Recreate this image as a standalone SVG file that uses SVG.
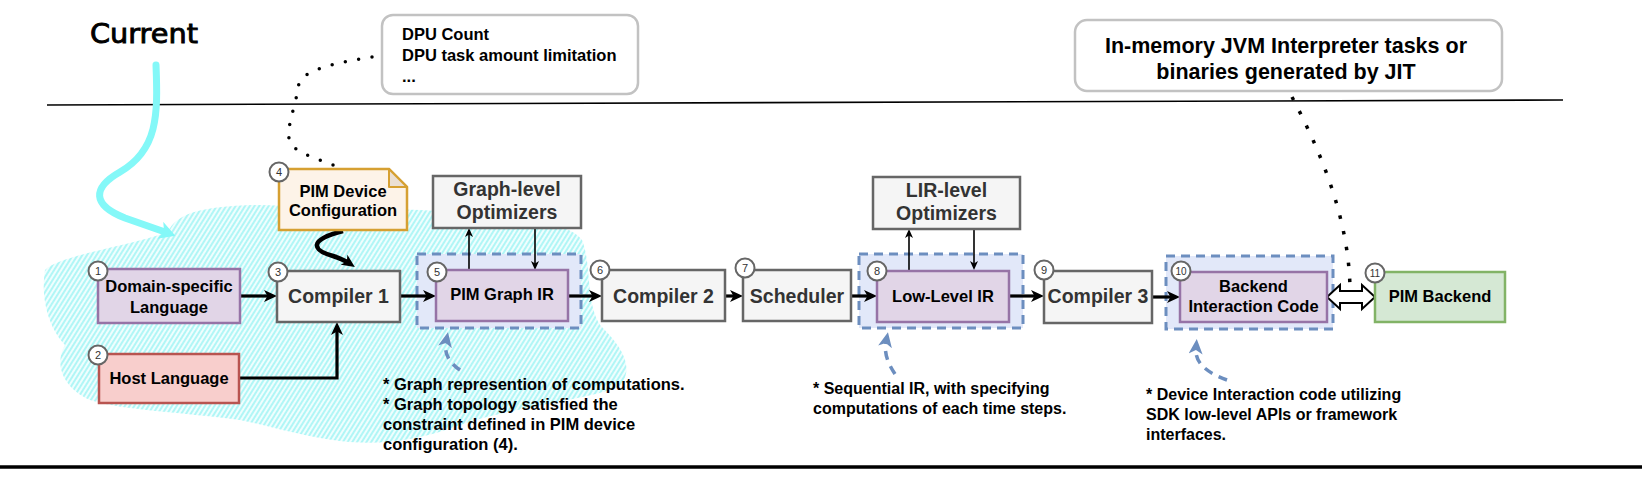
<svg xmlns="http://www.w3.org/2000/svg" width="1642" height="481" viewBox="0 0 1642 481">
<style>
text{font-family:"Liberation Sans",Arial,sans-serif;font-weight:bold;}
.box-gray{fill:#f5f5f5;stroke:#666666;stroke-width:2.5;}
.box-purple{fill:#e1d5e7;stroke:#9673a6;stroke-width:2.5;}
.box-red{fill:#f8cecc;stroke:#b85450;stroke-width:2.5;}
.box-green{fill:#d5e8d4;stroke:#82b366;stroke-width:2.5;}
.container{fill:#e2e8f9;stroke:#6c8ebf;stroke-width:3;stroke-dasharray:9 6;}
.callout{fill:#ffffff;stroke:#c2c2c2;stroke-width:2.5;}
.badge circle{fill:#ffffff;stroke:#666666;stroke-width:2;}
.badge text{font-size:11px;fill:#333333;text-anchor:middle;font-weight:normal;}
.t-gray{font-size:19.5px;fill:#333333;text-anchor:middle;}
.t-box{font-size:16.5px;fill:#000000;text-anchor:middle;}
.note-t{font-size:16.5px;fill:#000000;}
.flow{fill:none;stroke:#000000;stroke-width:3.2;marker-end:url(#ah);}
.opt{fill:none;stroke:#000000;stroke-width:1.6;marker-end:url(#ahs);}
.blue{fill:none;stroke:#6c8ebf;stroke-width:3.5;stroke-dasharray:9 7;marker-end:url(#ahb);}
</style>
<defs>
<pattern id="hatch" width="4" height="10" patternUnits="userSpaceOnUse" patternTransform="rotate(32)">
<rect width="4" height="10" fill="#effefe"/>
<line x1="1" y1="0" x2="1" y2="10" stroke="#8ff3f3" stroke-width="1.3"/>
</pattern>
<marker id="ah" viewBox="0 0 13 12" markerWidth="13" markerHeight="12" markerUnits="userSpaceOnUse" refX="6" refY="6" orient="auto">
<path d="M0,0 L13,6 L0,12 L3.5,6 Z" fill="#000000"/>
</marker>
<marker id="ahs" viewBox="0 0 9 8" markerWidth="9" markerHeight="8" markerUnits="userSpaceOnUse" refX="4" refY="4" orient="auto">
<path d="M0,0 L9,4 L0,8 L2.5,4 Z" fill="#000000"/>
</marker>
<marker id="ahb" viewBox="0 0 15 14" markerWidth="15" markerHeight="14" markerUnits="userSpaceOnUse" refX="5" refY="7" orient="auto">
<path d="M0,0 L15,7 L0,14 L4,7 Z" fill="#6c8ebf"/>
</marker>
<marker id="ahc" viewBox="0 0 16 18" markerWidth="16" markerHeight="18" markerUnits="userSpaceOnUse" refX="5" refY="9" orient="auto">
<path d="M0,0 L16,9 L0,18 L4,9 Z" fill="#84f8f8"/>
</marker>
</defs>

<rect width="1642" height="481" fill="#ffffff"/>

<!-- cyan hatched region -->
<path id="scope-blob" d="M45,270 C60,255 130,246 168,232 C176,214 200,206 260,205 L420,210 C500,214 565,218 582,240 C592,265 585,300 600,325 C620,345 636,366 620,386 C590,400 520,405 460,425 C420,440 380,446 340,441 C300,436 270,426 240,420 C180,412 120,410 90,400 C60,386 55,362 65,345 C50,330 40,300 45,270 Z" fill="url(#hatch)"/>

<!-- separators -->
<line x1="47" y1="105" x2="1563" y2="100" stroke="#000000" stroke-width="1.6"/>
<line x1="0" y1="467" x2="1642" y2="467" stroke="#000000" stroke-width="3.5"/>

<!-- Current label & arrow -->
<text x="90" y="43" style="font-family:'DejaVu Sans',sans-serif;font-weight:normal;font-size:27px;stroke:#000000;stroke-width:0.9;" textLength="108" lengthAdjust="spacingAndGlyphs" fill="#000000">Current</text>
<path d="M156,65 C158,115 158,150 120,172 C92,188 92,205 125,218 L165,232" fill="none" stroke="#84f8f8" stroke-width="7" stroke-linecap="round" marker-end="url(#ahc)"/>

<!-- callouts -->
<g id="dpu-callout">
<rect class="callout" x="382" y="15" width="256" height="79" rx="11"/>
<text x="402" y="40" style="font-size:16.5px;">DPU Count</text>
<text x="402" y="61" style="font-size:16.5px;">DPU task amount limitation</text>
<text x="402" y="82" style="font-size:16.5px;">...</text>
</g>
<g id="jvm-callout">
<rect class="callout" x="1075" y="20" width="427" height="71" rx="12"/>
<text x="1286" y="53" style="font-size:21.5px;" text-anchor="middle">In-memory JVM Interpreter tasks or</text>
<text x="1286" y="79" style="font-size:21.5px;" text-anchor="middle">binaries generated by JIT</text>
</g>

<!-- containers -->
<g id="container-graph"><rect class="container" x="417" y="254" width="164" height="74"/></g>
<g id="container-lir"><rect class="container" x="859" y="254" width="164" height="74"/></g>
<g id="container-backend"><rect class="container" x="1166" y="256" width="167" height="73"/></g>

<!-- connectors -->
<g id="connectors">
<path class="flow" d="M240,296 H270"/>
<path class="flow" d="M239,378 H337 V329"/>
<path fill="none" stroke="#000000" stroke-width="4.5" marker-end="url(#ah)" d="M343,231 C308,240 312,250 333,256 C342,259 346,261 349,263"/>
<path class="flow" d="M400,296 H429"/>
<path class="opt" d="M469,270 V233"/>
<path class="opt" d="M535,228 V265"/>
<path class="flow" d="M568,296 H595"/>
<path class="flow" d="M725,296 H736"/>
<path class="flow" d="M851,296 H870"/>
<path class="opt" d="M909,270 V234"/>
<path class="opt" d="M974,229 V265"/>
<path class="flow" d="M1009,296 H1037"/>
<path class="flow" d="M1152,297 H1173"/>
<path d="M1327,297 L1340,285 L1340,291 L1362,291 L1362,285 L1375,297 L1362,309 L1362,303 L1340,303 L1340,309 Z" fill="#ffffff" stroke="#000000" stroke-width="2"/>
<path d="M372,57 C330,64 300,70 298,88 C296,105 285,130 290,142 C296,155 325,160 342,169" fill="none" stroke="#000000" stroke-width="3.5" stroke-linecap="round" stroke-dasharray="0 13.5"/>
<path d="M1292,97 C1320,150 1350,220 1350,292" fill="none" stroke="#000000" stroke-width="3.5" stroke-dasharray="3.5 12.5"/>
<path class="blue" d="M460,370 C448,362 444,352 446,342"/>
<path class="blue" d="M895,374 C887,362 884,352 886,342"/>
<path class="blue" d="M1227,380 C1205,372 1195,362 1196,349"/>
</g>

<!-- nodes -->
<g id="n1">
<rect class="box-purple" x="98" y="269" width="142" height="54"/>
<text class="t-box" x="169" y="292">Domain-specific</text>
<text class="t-box" x="169" y="313">Language</text>
<g class="badge"><circle cx="98" cy="271" r="9.5"/><text x="98" y="275">1</text></g>
</g>
<g id="n2">
<rect class="box-red" x="99" y="354" width="140" height="49"/>
<text class="t-box" x="169" y="384">Host Language</text>
<g class="badge"><circle cx="98" cy="355" r="9.5"/><text x="98" y="359">2</text></g>
</g>
<g id="n3">
<rect class="box-gray" x="277" y="271" width="123" height="51"/>
<text class="t-gray" x="338.5" y="303">Compiler 1</text>
<g class="badge"><circle cx="278" cy="272" r="9.5"/><text x="278" y="276">3</text></g>
</g>
<g id="n4">
<path d="M279,169 H389 L407,187 V230 H279 Z" fill="#fdf3e8" stroke="#d6a032" stroke-width="2.5"/>
<path d="M389,169 V187 H407 Z" fill="#ebdfd3" stroke="#d6a032" stroke-width="2" stroke-linejoin="round"/>
<text class="note-t" x="343" y="197" text-anchor="middle">PIM Device</text>
<text class="note-t" x="343" y="216" text-anchor="middle">Configuration</text>
<g class="badge"><circle cx="279" cy="172" r="9.5"/><text x="279" y="176">4</text></g>
</g>
<g id="graph-opt">
<rect class="box-gray" x="433" y="176" width="148" height="52"/>
<text class="t-gray" x="507" y="196">Graph-level</text>
<text class="t-gray" x="507" y="219">Optimizers</text>
</g>
<g id="n5">
<rect class="box-purple" x="436" y="270" width="132" height="51"/>
<text class="t-box" x="502" y="300">PIM Graph IR</text>
<g class="badge"><circle cx="437" cy="272" r="9.5"/><text x="437" y="276">5</text></g>
</g>
<g id="n6">
<rect class="box-gray" x="602" y="270" width="123" height="51"/>
<text class="t-gray" x="663.5" y="303">Compiler 2</text>
<g class="badge"><circle cx="600" cy="270" r="9.5"/><text x="600" y="274">6</text></g>
</g>
<g id="n7">
<rect class="box-gray" x="743" y="270" width="108" height="51"/>
<text class="t-gray" x="797" y="303">Scheduler</text>
<g class="badge"><circle cx="745" cy="268" r="9.5"/><text x="745" y="272">7</text></g>
</g>
<g id="lir-opt">
<rect class="box-gray" x="873" y="177" width="147" height="52"/>
<text class="t-gray" x="946.5" y="197">LIR-level</text>
<text class="t-gray" x="946.5" y="220">Optimizers</text>
</g>
<g id="n8">
<rect class="box-purple" x="877" y="271" width="132" height="51"/>
<text class="t-box" x="943" y="302">Low-Level IR</text>
<g class="badge"><circle cx="877" cy="271" r="9.5"/><text x="877" y="275">8</text></g>
</g>
<g id="n9">
<rect class="box-gray" x="1044" y="271" width="108" height="52"/>
<text class="t-gray" x="1098" y="303">Compiler 3</text>
<g class="badge"><circle cx="1044" cy="270" r="9.5"/><text x="1044" y="274">9</text></g>
</g>
<g id="n10">
<rect class="box-purple" x="1180" y="272" width="147" height="50"/>
<text class="t-box" x="1253.5" y="292">Backend</text>
<text class="t-box" x="1253.5" y="312">Interaction Code</text>
<g class="badge"><circle cx="1181" cy="271" r="9.5"/><text x="1181" y="275" style="font-size:10px;">10</text></g>
</g>
<g id="n11">
<rect class="box-green" x="1375" y="272" width="130" height="50"/>
<text class="t-box" x="1440" y="302">PIM Backend</text>
<g class="badge"><circle cx="1375" cy="273" r="9.5"/><text x="1375" y="277" style="font-size:10px;">11</text></g>
</g>

<!-- annotations -->
<g id="notes">
<text x="383" y="390" style="font-size:16.5px;">* Graph represention of computations.</text>
<text x="383" y="410" style="font-size:16.5px;">* Graph topology satisfied the</text>
<text x="383" y="430" style="font-size:16.5px;">constraint defined in PIM device</text>
<text x="383" y="450" style="font-size:16.5px;">configuration (4).</text>
<text x="813" y="394" style="font-size:16px;">* Sequential IR, with specifying</text>
<text x="813" y="414" style="font-size:16px;">computations of each time steps.</text>
<text x="1146" y="400" style="font-size:16px;">* Device Interaction code utilizing</text>
<text x="1146" y="420" style="font-size:16px;">SDK low-level APIs or framework</text>
<text x="1146" y="440" style="font-size:16px;">interfaces.</text>
</g>
</svg>
